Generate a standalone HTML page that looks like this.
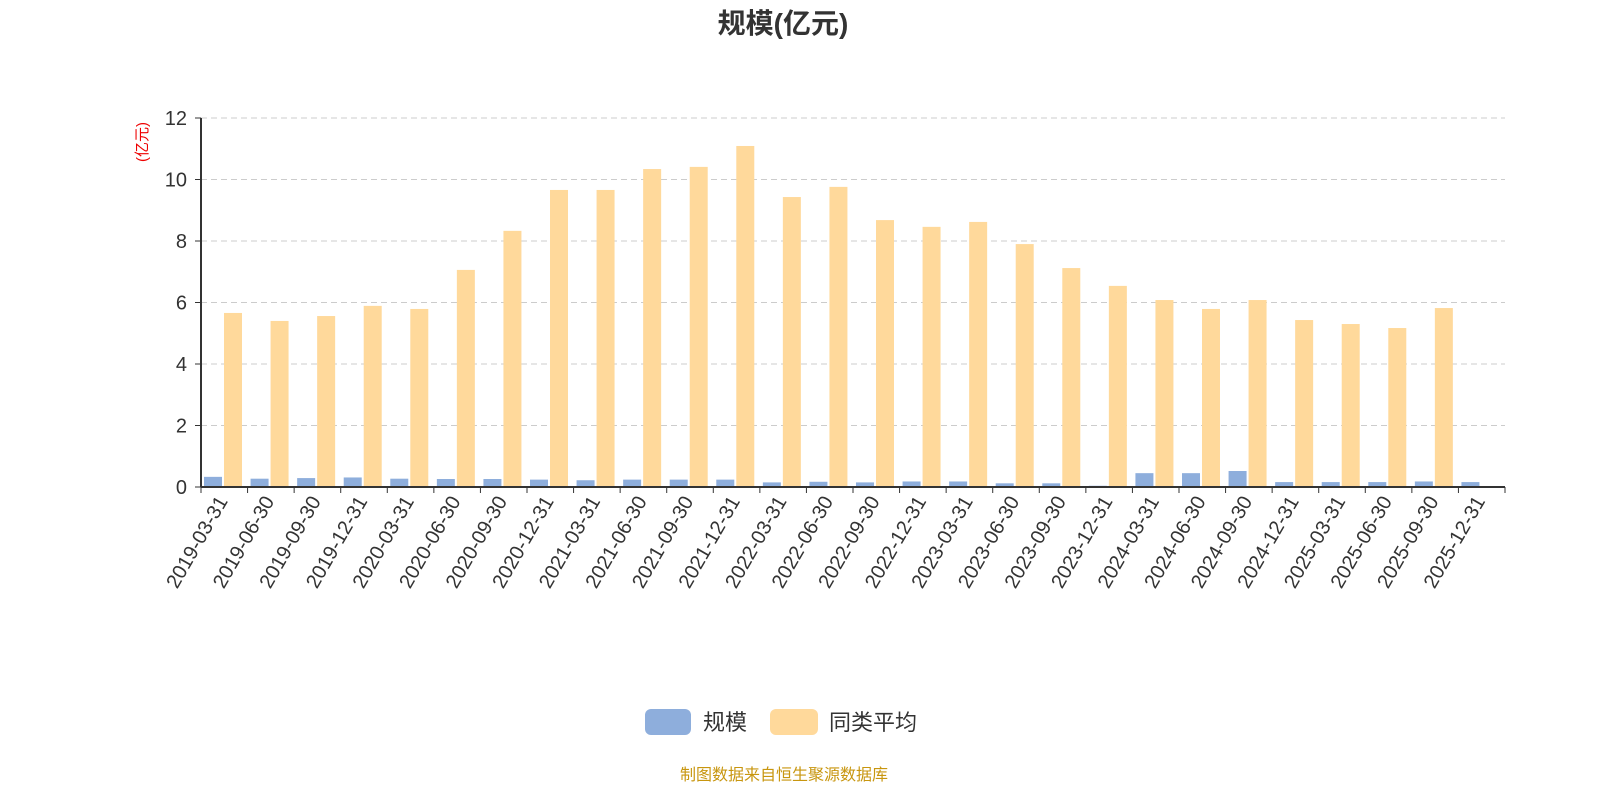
<!DOCTYPE html>
<html><head><meta charset="utf-8"><style>
body{margin:0;background:#fff;font-family:"Liberation Sans","Noto Sans CJK SC",sans-serif}
</style></head><body>
<svg id="c" width="1600" height="800" xmlns="http://www.w3.org/2000/svg" style="font-family:'Liberation Sans','Noto Sans CJK SC',sans-serif">
<text x="783" y="33" text-anchor="middle" font-size="28" font-weight="bold" fill="#333">规模(亿元)</text>
<text transform="translate(147,142) rotate(-90)" text-anchor="middle" font-size="15" fill="#e00">(亿元)</text>
<g id="grid"></g><g id="bars"></g><g id="axes"></g>
<g><rect x="645" y="709" width="46" height="26" rx="6" fill="#8eaedc"/><text x="703" y="730" font-size="22" fill="#333">规模</text></g>
<g><rect x="770" y="709" width="48" height="26" rx="6" fill="#ffd99b"/><text x="829" y="730" font-size="22" fill="#333">同类平均</text></g>
<text x="784" y="780" text-anchor="middle" font-size="16" fill="#c8960f">制图数据来自恒生聚源数据库</text>
</svg>
<script>
const categories=["2019-03-31","2019-06-30","2019-09-30","2019-12-31","2020-03-31","2020-06-30","2020-09-30","2020-12-31","2021-03-31","2021-06-30","2021-09-30","2021-12-31","2022-03-31","2022-06-30","2022-09-30","2022-12-31","2023-03-31","2023-06-30","2023-09-30","2023-12-31","2024-03-31","2024-06-30","2024-09-30","2024-12-31","2025-03-31","2025-06-30","2025-09-30","2025-12-31"];
const scaleValues=[0.33,0.27,0.29,0.31,0.27,0.26,0.26,0.24,0.22,0.24,0.24,0.24,0.15,0.17,0.15,0.18,0.18,0.12,0.12,0.04,0.45,0.45,0.52,0.16,0.16,0.16,0.18,0.16];
const avgValues=[5.66,5.4,5.56,5.89,5.79,7.06,8.33,9.66,9.66,10.34,10.41,11.09,9.43,9.76,8.68,8.46,8.62,7.9,7.12,6.54,6.08,5.79,6.08,5.43,5.3,5.17,5.82,null];
const yTicks=[0,2,4,6,8,10,12];
const NS="http://www.w3.org/2000/svg";
const X0=201,X1=1505,Y0=487,Y1=118,YMAX=12;
const cw=(X1-X0)/categories.length;
const y=v=>Y0-(v/YMAX)*(Y0-Y1);
function mk(t,a,p){const e=document.createElementNS(NS,t);for(const k in a)e.setAttribute(k,a[k]);p.appendChild(e);return e;}
const grid=document.getElementById('grid'),bars=document.getElementById('bars'),axes=document.getElementById('axes');
yTicks.forEach(t=>{
 if(t>0){const l=mk('line',{x1:X0,x2:X1,y1:y(t),y2:y(t),stroke:'#ccc','stroke-dasharray':'6,4'},grid);
 
 }
 mk('line',{x1:X0-6,x2:X0,y1:y(t),y2:y(t),stroke:'#333'},axes);
 const tx=mk('text',{x:X0-14,y:y(t)+7,'text-anchor':'end','font-size':20,fill:'#333'},axes);tx.textContent=t;
 
 
});
mk('line',{x1:X0,x2:X0,y1:Y1,y2:Y0,stroke:'#333','stroke-width':2},axes);
mk('line',{x1:X0,x2:X1,y1:Y0,y2:Y0,stroke:'#333','stroke-width':2},axes);
categories.forEach((c,i)=>{
 const cx=X0+cw*i;
 mk('line',{x1:cx,x2:cx,y1:Y0,y2:Y0+6,stroke:'#333'},axes);
 if(scaleValues[i]!=null){const r=mk('rect',{x:cx+3,y:y(scaleValues[i]),width:18,height:Y0-y(scaleValues[i]),fill:'#8eaedc'},bars);
 
 }
 if(avgValues[i]!=null){const r=mk('rect',{x:cx+23,y:y(avgValues[i]),width:18,height:Y0-y(avgValues[i]),fill:'#ffd99b'},bars);
 
 }
 const lx=cx+cw/2+4;
 const t=mk('text',{transform:`translate(${lx},${Y0+14}) rotate(-60)`,'text-anchor':'end','font-size':20,fill:'#333'},axes);t.textContent=c;
 
 
});
mk('line',{x1:X1,x2:X1,y1:Y0,y2:Y0+6,stroke:'#333'},axes);
</script>
</body></html>
